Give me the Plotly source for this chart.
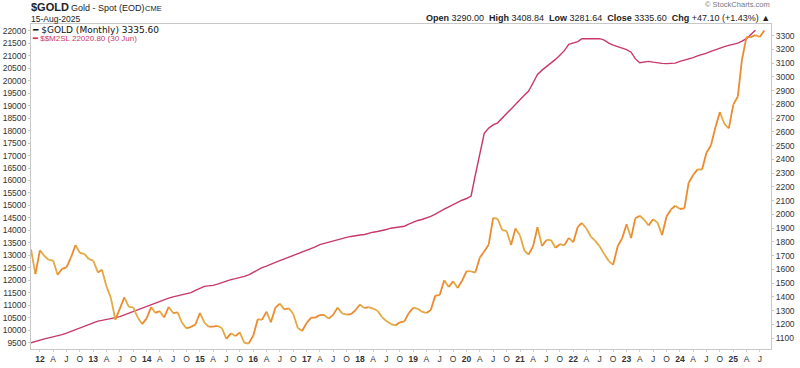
import pandas as pd
import plotly.graph_objects as go

# ---------------- data (monthly) ----------------
gold_start = "2011-11-01"
gold_close = [
    1746, 1566,
    1738, 1697, 1669, 1664, 1561, 1604, 1614, 1687, 1776, 1719, 1713, 1675,
    1663, 1578, 1597, 1476, 1393, 1234, 1313, 1396, 1327, 1323, 1250, 1202,
    1244, 1326, 1284, 1296, 1250, 1327, 1282, 1287, 1210, 1171, 1182, 1199,
    1283, 1213, 1183, 1184, 1190, 1172, 1095, 1135, 1115, 1142, 1065, 1061,
    1118, 1238, 1233, 1293, 1215, 1322, 1351, 1309, 1316, 1277, 1173, 1152,
    1211, 1249, 1249, 1268, 1268, 1242, 1269, 1322, 1280, 1271, 1275, 1303,
    1345, 1318, 1325, 1315, 1299, 1253, 1224, 1202, 1192, 1215, 1222, 1282,
    1321, 1313, 1292, 1283, 1305, 1409, 1413, 1520, 1472, 1513, 1464, 1517,
    1587, 1585, 1577, 1686, 1730, 1781, 1975, 1967, 1886, 1879, 1777, 1898,
    1847, 1734, 1708, 1769, 1906, 1770, 1814, 1813, 1757, 1783, 1775, 1829,
    1797, 1909, 1937, 1897, 1838, 1807, 1766, 1711, 1660, 1633, 1768, 1824,
    1928, 1827, 1969, 1990, 1962, 1919, 1965, 1940, 1849, 1983, 2036, 2063,
    2039, 2044, 2230, 2286, 2327, 2326, 2448, 2503, 2635, 2744, 2657, 2625,
    2798, 2858, 3124, 3289, 3289, 3303, 3290, 3336,
]

m2_start = "2011-11-01"
m2_values = [
    9500, 9560,
    9610, 9660, 9700, 9740, 9790, 9830, 9890, 9960, 10030, 10100, 10170, 10250,
    10330, 10370, 10400, 10430, 10470, 10510, 10550, 10620, 10690, 10760, 10830, 10900,
    10970, 11040, 11110, 11180, 11240, 11290, 11340, 11390, 11430, 11470, 11510, 11600,
    11690, 11760, 11780, 11800, 11850, 11920, 11980, 12030, 12070, 12100, 12160, 12220,
    12330, 12420, 12510, 12570, 12630, 12720, 12790, 12860, 12930, 12990, 13060, 13110,
    13200, 13270, 13340, 13430, 13480, 13540, 13590, 13640, 13690, 13720, 13760, 13800,
    13820, 13840, 13890, 13930, 13960, 13990, 14040, 14090, 14110, 14130, 14170, 14250,
    14330, 14400, 14440, 14490, 14560, 14650, 14760, 14850, 14940, 15040, 15110, 15210,
    15280, 15380, 16220, 17060, 17890, 18100, 18230, 18310, 18500, 18700, 18890, 19050,
    19230, 19420, 19580, 19950, 20250, 20420, 20550, 20700, 20850, 21020, 21200, 21450,
    21520, 21560, 21680, 21680, 21670, 21670, 21680, 21620, 21500, 21420, 21360, 21310,
    21240, 21140, 20880, 20720, 20750, 20770, 20740, 20700, 20690, 20680, 20680, 20700,
    20770, 20820, 20860, 20920, 20990, 21040, 21100, 21170, 21240, 21300, 21360, 21410,
    21450, 21500, 21580, 21680, 21850, 22020,
]

m2_ticks = list(range(9500, 22001, 500))
gold_ticks = list(range(1100, 3301, 100))
quarter_letters = {1: None, 4: "A", 7: "J", 10: "O"}

# ---------------- derived ----------------
gold_dates = pd.date_range(gold_start, periods=len(gold_close), freq="MS")
m2_dates = pd.date_range(m2_start, periods=len(m2_values), freq="MS")
x_tick_dates = pd.date_range("2012-01-01", "2025-07-01", freq="QS")
x_tick_text = [
    "<b>%s</b>" % d.strftime("%y") if d.month == 1 else quarter_letters[d.month]
    for d in x_tick_dates
]

# split gold into rising / falling segments (two tones as in the original)
up_x, up_y, dn_x, dn_y = [], [], [], []
for i in range(len(gold_close) - 1):
    seg_x = [gold_dates[i], gold_dates[i + 1], None]
    seg_y = [gold_close[i], gold_close[i + 1], None]
    if gold_close[i + 1] >= gold_close[i]:
        up_x += seg_x; up_y += seg_y
    else:
        dn_x += seg_x; dn_y += seg_y

GOLD_UP = "#EB8A2E"
GOLD_DN = "#E3A942"
M2_COL = "#C8386C"
TXT = "#333333"
FAM = "Liberation Sans, Arial, sans-serif"
AX_FONT = dict(family=FAM, size=8.5, color=TXT)

fig = go.Figure()
fig.add_trace(go.Scatter(x=m2_dates, y=m2_values, mode="lines",
                         line=dict(color=M2_COL, width=1.4), yaxis="y",
                         hoverinfo="skip", showlegend=False))
fig.add_trace(go.Scatter(x=dn_x, y=dn_y, mode="lines",
                         line=dict(color=GOLD_DN, width=1.8), yaxis="y2",
                         connectgaps=False, showlegend=False))
fig.add_trace(go.Scatter(x=up_x, y=up_y, mode="lines",
                         line=dict(color=GOLD_UP, width=1.8), yaxis="y2",
                         connectgaps=False, showlegend=False))

L, R, T, B = 31, 29, 24, 19
W, H = 800, 368
pw, ph = W - L - R, H - T - B

def px(xp):
    return (xp - L) / pw

def py(yp):
    return (H - B - yp) / ph

fig.update_layout(
    width=W, height=H, autosize=False,
    margin=dict(l=L, r=R, t=T, b=B, pad=0),
    paper_bgcolor="white", plot_bgcolor="white",
    showlegend=False,
    xaxis=dict(
        type="date", range=["2011-11-01", "2025-09-16"], automargin=False,
        tickvals=x_tick_dates, ticktext=x_tick_text,
        tickfont=dict(family=FAM, size=8.5, color=TXT),
        showgrid=False, zeroline=False,
        showline=True, linecolor="#c8c8c8", linewidth=1, mirror=True,
        ticks="outside", ticklen=2, tickcolor="#d0d0d0",
    ),
    yaxis=dict(
        range=[9252, 22268], tickvals=m2_ticks, automargin=False,
        ticktext=[str(v) for v in m2_ticks],
        tickfont=AX_FONT, showgrid=False, zeroline=False,
        showline=True, linecolor="#c8c8c8", linewidth=1,
        ticks="outside", ticklen=2, tickcolor="#c8c8c8",
        side="left",
    ),
    yaxis2=dict(
        range=[1021, 3384], tickvals=gold_ticks, automargin=False,
        ticktext=[str(v) for v in gold_ticks],
        tickfont=AX_FONT, showgrid=False, zeroline=False,
        showline=True, linecolor="#c8c8c8", linewidth=1,
        ticks="outside", ticklen=2, tickcolor="#c8c8c8",
        overlaying="y", side="right",
    ),
)

def note(x, y, text, size, color="#222", family=FAM, xanchor="left"):
    return dict(x=px(x), y=py(y), xref="paper", yref="paper",
                xanchor=xanchor, yanchor="middle", text=text, showarrow=False,
                borderpad=0, font=dict(family=family, size=size, color=color))

ann = [
    # header left
    note(30, 7, "<b>$GOLD</b>", 11),
    note(70, 7.5, "Gold - Spot (EOD)", 9),
    note(144, 8, "CME", 7.5),
    note(30, 18.5, "15-Aug-2025", 8.5),
    # header right
    note(771, 5, "© StockCharts.com", 7.5, color="#777", xanchor="right"),
    note(771, 18, "<b>Open</b> 3290.00  <b>High</b> 3408.84  <b>Low</b> 3281.64  "
                  "<b>Close</b> 3335.60  <b>Chg</b> +47.10 (+1.43%) ▲", 9, xanchor="right"),
    # legend
    note(31, 30, "<b>━</b> $GOLD (Monthly) 3335.60", 9, color="#111",
         family="DejaVu Sans, sans-serif"),
    note(31, 38.5, "<b>━</b> $$M2SL 22020.80 (30 Jun)", 8, color=M2_COL),
]
fig.update_layout(annotations=ann)

fig.write_html("out.html",
               config={"displayModeBar": False, "staticPlot": True},
               post_script="document.body.style.margin='0';document.body.style.overflow='hidden';")
